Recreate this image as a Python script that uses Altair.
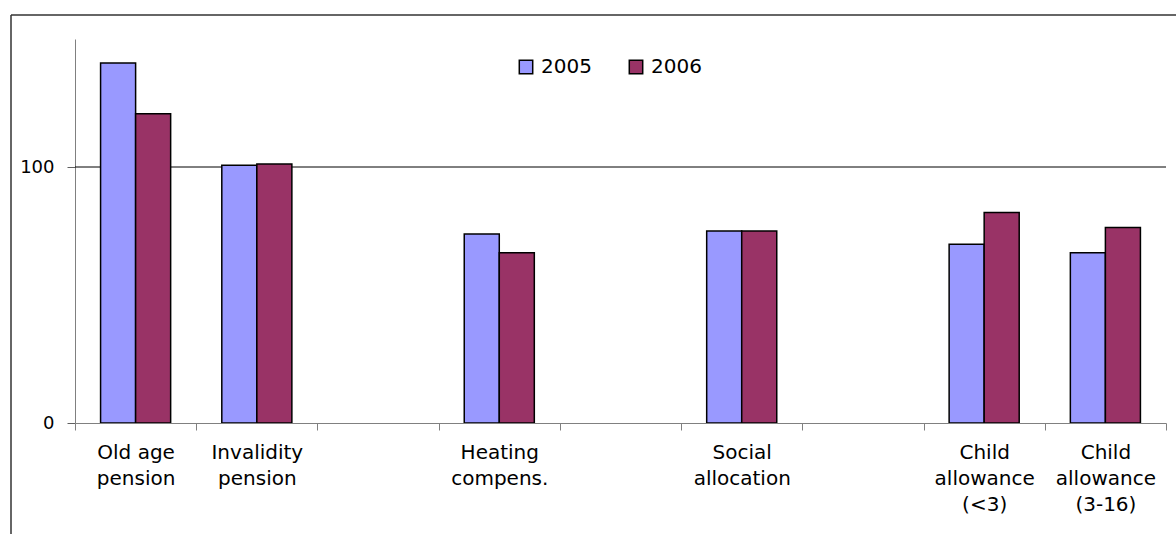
import altair as alt
import pandas as pd

# Category slots along the x axis; the blank slots keep the empty gaps
categories = [
    "Old age|pension",
    "Invalidity|pension",
    " ",
    "Heating|compens.",
    "  ",
    "Social|allocation",
    "   ",
    "Child|allowance|(<3)",
    "Child|allowance|(3-16)",
]
benefits = [
    "Old age|pension",
    "Invalidity|pension",
    "Heating|compens.",
    "Social|allocation",
    "Child|allowance|(<3)",
    "Child|allowance|(3-16)",
]
values_2005 = [140.6, 100.7, 73.8, 75.0, 69.8, 66.5]
values_2006 = [120.8, 101.2, 66.5, 75.0, 82.2, 76.4]
years = ["2005", "2006"]
year_colors = ["#9999FF", "#993366"]
reference_level = [100]
y_ticks = [0, 100]

FONT = "DejaVu Sans"

rows = []
for b, v5, v6 in zip(benefits, values_2005, values_2006):
    rows.append({"benefit": b, "year": "2005", "value": v5})
    rows.append({"benefit": b, "year": "2006", "value": v6})
df = pd.DataFrame(rows)

bars = alt.Chart(df).mark_bar(stroke="black", strokeWidth=1.5).encode(
    x=alt.X(
        "benefit:N",
        sort=categories,
        scale=alt.Scale(domain=categories, paddingInner=0, paddingOuter=0),
        title=None,
        axis=alt.Axis(
            labelExpr="split(datum.label, '|')",
            labelAngle=0,
            labelFont=FONT,
            labelFontSize=20,
            labelLineHeight=26,
            labelColor="black",
            labelPadding=12,
            labelOverlap=False,
            labelBound=False,
            tickBand="extent",
            tickSize=7,
            tickColor="#808080",
            domainColor="#808080",
            zindex=1,
        ),
    ),
    xOffset=alt.XOffset(
        "year:N", scale=alt.Scale(domain=years, paddingInner=0, paddingOuter=0.73)
    ),
    y=alt.Y(
        "value:Q",
        scale=alt.Scale(domain=[0, 150], nice=False),
        title=None,
        axis=alt.Axis(
            values=y_ticks,
            grid=False,
            labelFont=FONT,
            labelFontSize=18,
            labelColor="black",
            labelPadding=13,
            tickSize=8,
            tickColor="#606060",
            domainColor="#808080",
        ),
    ),
    color=alt.Color(
        "year:N",
        scale=alt.Scale(domain=years, range=year_colors),
        legend=alt.Legend(
            orient="none",
            legendX=441,
            legendY=18,
            direction="horizontal",
            title=None,
            symbolType="square",
            symbolSize=180,
            symbolStrokeColor="black",
            symbolStrokeWidth=1.5,
            symbolOpacity=1,
            labelFont=FONT,
            labelFontSize=20,
            labelColor="black",
            labelOffset=5,
            columnPadding=34,
            padding=0,
        ),
    ),
)

level_line = alt.Chart(pd.DataFrame({"level": reference_level})).mark_rule(
    color="black", strokeWidth=1
).encode(y="level:Q")

frame_data = pd.DataFrame({"k": [0]})
frame_left = alt.Chart(frame_data).mark_rule(color="#333333", strokeWidth=1.5).encode(
    x=alt.value(-64), y=alt.value(-24), y2=alt.value(600)
)
frame_top = alt.Chart(frame_data).mark_rule(color="#333333", strokeWidth=1.5).encode(
    x=alt.value(-64), x2=alt.value(1200), y=alt.value(-24)
)

chart = (
    alt.layer(frame_left, frame_top, level_line, bars)
    .properties(
        width=1091,
        height=384,
        padding={"left": 75, "top": 39, "right": 10, "bottom": 111},
        autosize=alt.AutoSizeParams(type="none"),
        background="white",
    )
    .configure_view(strokeWidth=0)
)

chart.save("out.html", embed_options={"renderer": "svg", "actions": False})
